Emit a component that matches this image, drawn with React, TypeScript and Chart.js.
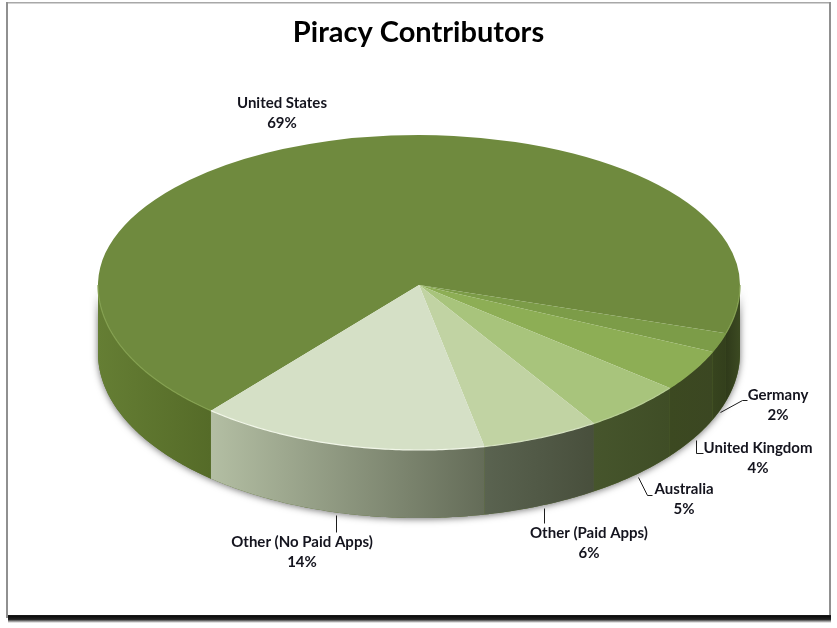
import React, { useEffect, useRef } from "react";
import { Chart, registerables } from "chart.js";

Chart.register(...registerables);

const titleText = "Piracy Contributors";
const categories = ["United States", "Germany", "United Kingdom", "Australia", "Other (Paid Apps)", "Other (No Paid Apps)"];
// shares; the printed labels round them to whole percents
const shares = [68.5, 1.9, 4.1, 5.1, 5.9, 14.49];
const topColors = ["#6F8A3E", "#7C9C48", "#8DAE55", "#A8C47C", "#C1D3A3", "#D5E0C6"];
// wall gradient: [colour at the left of the slice's wall, colour at its right]
const wallLeft = ["#657E34", "#37441E", "#3C4921", "#46552C", "#5A6350", "#B3BEA3"];
const wallRight = ["#556B28", "#333F1C", "#3B4722", "#3F4D26", "#484F3C", "#646C58"];
const wallFarRight = ["#2F3A1A", "#3C4A22"];
const rimColors = ["#84A050", "#7C9C48", "#8DAE55", "#B8CF94", "#D5E2C0", "#F1F6E8"];

// layout of the flattened pie
const CX = 419, CY = 285, RX = 321, RY_TOP = 150, RY_BOTTOM = 165, DEPTH = 68;
const START_ROTATION = -139.6;

// label anchor (centre of the name line) and leader line of each category
const labelPos = [[282, 103], [778, 395], [758, 448], [684, 489], [589, 533], [302, 542]];
const leaders: number[][][] = [
  [],
  [[720, 412], [742, 400], [747, 400]],
  [[696, 440], [696, 453], [703, 453]],
  [[638, 477], [647, 495], [652, 495]],
  [[544, 508], [544, 523]],
  [[336, 515], [336, 532]],
];

const px = (a: number) => CX + RX * Math.cos(a);
const py = (a: number) => CY + (Math.sin(a) >= 0 ? RY_BOTTOM : RY_TOP) * Math.sin(a);

function visibleRanges(start: number, end: number) {
  const out: [number, number][] = [];
  for (let k = -2; k <= 2; k++) {
    const lo = Math.max(start, k * 2 * Math.PI);
    const hi = Math.min(end, k * 2 * Math.PI + Math.PI);
    if (hi > lo) out.push([lo, hi]);
  }
  return out;
}

function trace(ctx: CanvasRenderingContext2D, lo: number, hi: number) {
  const n = Math.max(4, Math.ceil((hi - lo) * 90));
  ctx.beginPath();
  for (let i = 0; i <= n; i++) {
    const a = lo + ((hi - lo) * i) / n;
    if (i === 0) ctx.moveTo(px(a), py(a));
    else ctx.lineTo(px(a), py(a));
  }
  for (let i = n; i >= 0; i--) {
    const a = lo + ((hi - lo) * i) / n;
    ctx.lineTo(px(a), py(a) + DEPTH);
  }
  ctx.closePath();
}

const pie3d = {
  id: "pie3d",
  beforeDraw(chart: any) {
    const ctx: CanvasRenderingContext2D = chart.ctx;
    ctx.save();
    ctx.fillStyle = "#fff";
    ctx.fillRect(0, 0, 837, 628);
    // frame
    ctx.fillStyle = "#a8a8a8";
    ctx.fillRect(6, 2, 825, 1.5);
    ctx.fillStyle = "#909090";
    ctx.fillRect(6, 2, 2, 616);
    ctx.fillRect(829, 2, 2, 616);
    const g = ctx.createLinearGradient(0, 614, 0, 623);
    g.addColorStop(0, "#555");
    g.addColorStop(0.2, "#0a0a0a");
    g.addColorStop(0.6, "#222");
    g.addColorStop(1, "#ffffff");
    ctx.fillStyle = g;
    ctx.fillRect(8, 615, 823, 8);
    ctx.restore();
  },
  beforeDatasetDraw(chart: any) {
    const ctx: CanvasRenderingContext2D = chart.ctx;
    const arcs = chart.getDatasetMeta(0).data;

    // soft shadow under the disc
    ctx.save();
    ctx.shadowColor = "rgba(0,0,0,0.55)";
    ctx.shadowBlur = 7;
    ctx.shadowOffsetY = 1;
    ctx.fillStyle = "#556B28";
    trace(ctx, 0, Math.PI);
    ctx.fill();
    ctx.restore();

    // walls
    arcs.forEach((arc: any, i: number) => {
      visibleRanges(arc.startAngle, arc.endAngle).forEach(([lo, hi]) => {
        const x0 = Math.min(px(lo), px(hi));
        const x1 = Math.max(px(lo), px(hi));
        const g = ctx.createLinearGradient(x0, 0, x1, 0);
        // the first slice wraps round: its part on the far right is in shade
        const onFarRight = i === 0 && Math.cos((lo + hi) / 2) > 0;
        g.addColorStop(0, onFarRight ? wallFarRight[0] : wallLeft[i]);
        g.addColorStop(1, onFarRight ? wallFarRight[1] : wallRight[i]);
        ctx.fillStyle = g;
        trace(ctx, lo, hi);
        ctx.fill();
      });
    });

    // top face: the library's arcs, squeezed into the two half ellipses
    const drawHalf = (y: number, h: number, ry: number) => {
      ctx.save();
      ctx.beginPath();
      ctx.rect(0, y, 837, h);
      ctx.clip();
      arcs.forEach((arc: any) => {
        const r = arc.outerRadius;
        ctx.save();
        ctx.translate(CX, CY);
        ctx.scale(RX / r, ry / r);
        ctx.translate(-arc.x, -arc.y);
        arc.draw(ctx);
        ctx.restore();
      });
      ctx.restore();
    };
    drawHalf(0, CY, RY_TOP);
    drawHalf(CY, 628 - CY, RY_BOTTOM);

    // light rim on the front edge of the top face
    arcs.forEach((arc: any, i: number) => {
      visibleRanges(arc.startAngle, arc.endAngle).forEach(([lo, hi]) => {
        const n = Math.ceil((hi - lo) * 90);
        ctx.beginPath();
        for (let k = 0; k <= n; k++) {
          const a = lo + ((hi - lo) * k) / n;
          ctx.lineTo(px(a), py(a));
        }
        ctx.strokeStyle = rimColors[i];
        ctx.lineWidth = 1.2;
        ctx.stroke();
      });
    });
    return false;
  },
  afterDatasetsDraw(chart: any) {
    const ctx: CanvasRenderingContext2D = chart.ctx;
    ctx.save();
    ctx.strokeStyle = "#1c1c1c";
    ctx.lineWidth = 1;
    leaders.forEach((pts) => {
      if (!pts.length) return;
      ctx.beginPath();
      pts.forEach(([x, y], k) => (k ? ctx.lineTo(x + 0.5, y + 0.5) : ctx.moveTo(x + 0.5, y + 0.5)));
      ctx.stroke();
    });
    ctx.fillStyle = "#14141e";
    ctx.font = "bold 15px Lato";
    ctx.textAlign = "center";
    ctx.textBaseline = "middle";
    categories.forEach((name, i) => {
      const [x, y] = labelPos[i];
      ctx.fillText(name, x, y);
      ctx.fillText(`${Math.round(shares[i])}%`, x, y + 20);
    });
    ctx.restore();
  },
};

export default function App() {
  const ref = useRef<HTMLCanvasElement>(null);
  useEffect(() => {
    const chart = new Chart(ref.current as HTMLCanvasElement, {
      type: "pie",
      data: {
        labels: categories,
        datasets: [{ data: shares, backgroundColor: topColors, borderWidth: 0 }],
      },
      options: {
        responsive: false,
        animation: false,
        rotation: START_ROTATION,
        layout: { padding: 0 },
        plugins: {
          legend: { display: false },
          tooltip: { enabled: false },
          title: {
            display: true,
            text: titleText,
            color: "#000",
            font: { family: "Lato", size: 29, weight: "bold" },
            padding: { top: 15, bottom: 10 },
          },
        },
      },
      plugins: [pie3d],
    } as any);
    return () => chart.destroy();
  }, []);
  return (
    <div style={{ position: "fixed", left: 0, top: 0, width: 837, height: 628 }}>
      <canvas ref={ref} width={837} height={628} style={{ display: "block" }} />
    </div>
  );
}
